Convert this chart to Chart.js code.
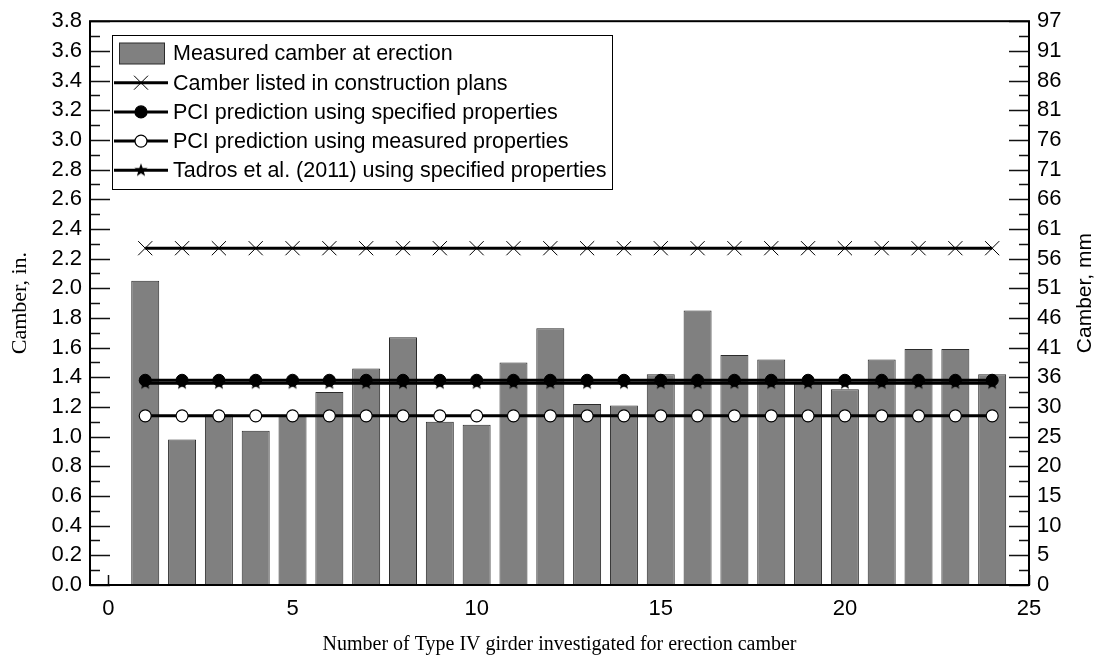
<!DOCTYPE html>
<html>
<head>
<meta charset="utf-8">
<script src="https://cdn.jsdelivr.net/npm/chart.js@4/dist/chart.umd.min.js"></script>
<style>
  html, body { margin: 0; padding: 0; background: #fff; }
  #wrap { width: 1101px; height: 663px; }
</style>
</head>
<body>
<div id="wrap"><canvas id="c" width="1101" height="663"></canvas></div>
<script>
// Girder numbers and erection camber (in.)
const girderNumbers = [1, 2, 3, 4, 5, 6, 7, 8, 9, 10, 11, 12, 13, 14, 15, 16, 17, 18, 19, 20, 21, 22, 23, 24];
const measuredCamber = [2.05, 0.98, 1.15, 1.04, 1.14, 1.30, 1.46, 1.67, 1.10, 1.08, 1.50, 1.73,
                        1.22, 1.21, 1.42, 1.85, 1.55, 1.52, 1.37, 1.32, 1.52, 1.59, 1.59, 1.42];
const planCamber     = [2.27, 2.27, 2.27, 2.27, 2.27, 2.27, 2.27, 2.27, 2.27, 2.27, 2.27, 2.27,
                        2.27, 2.27, 2.27, 2.27, 2.27, 2.27, 2.27, 2.27, 2.27, 2.27, 2.27, 2.27];
const pciSpecified   = [1.38, 1.38, 1.38, 1.38, 1.38, 1.38, 1.38, 1.38, 1.38, 1.38, 1.38, 1.38,
                        1.38, 1.38, 1.38, 1.38, 1.38, 1.38, 1.38, 1.38, 1.38, 1.38, 1.38, 1.38];
const pciMeasured    = [1.14, 1.14, 1.14, 1.14, 1.14, 1.14, 1.14, 1.14, 1.14, 1.14, 1.14, 1.14,
                        1.14, 1.14, 1.14, 1.14, 1.14, 1.14, 1.14, 1.14, 1.14, 1.14, 1.14, 1.14];
const tadrosSpecified = [1.36, 1.36, 1.36, 1.36, 1.36, 1.36, 1.36, 1.36, 1.36, 1.36, 1.36, 1.36,
                         1.36, 1.36, 1.36, 1.36, 1.36, 1.36, 1.36, 1.36, 1.36, 1.36, 1.36, 1.36];

// Tick labels
const xTicks = [0, 5, 10, 15, 20, 25];
const yTicksIn = [0.0, 0.2, 0.4, 0.6, 0.8, 1.0, 1.2, 1.4, 1.6, 1.8, 2.0, 2.2, 2.4, 2.6, 2.8, 3.0, 3.2, 3.4, 3.6, 3.8];
const yTicksMm = [0, 5, 10, 15, 20, 25, 30, 36, 41, 46, 51, 56, 61, 66, 71, 76, 81, 86, 91, 97];

const seriesLabels = [
  'Measured camber at erection',
  'Camber listed in construction plans',
  'PCI prediction using specified properties',
  'PCI prediction using measured properties',
  'Tadros et al. (2011) using specified properties'
];

const SANS = '"Liberation Sans", Arial, sans-serif';
const SERIF = '"Liberation Serif", "Times New Roman", serif';

// Filled five-point star used as a point marker
function makeStar(outer, inner) {
  const size = Math.ceil(outer * 2 + 2);
  const cv = document.createElement('canvas');
  cv.width = size; cv.height = size;
  const g = cv.getContext('2d');
  const cx = size / 2, cy = size / 2;
  g.beginPath();
  for (let i = 0; i < 10; i++) {
    const r = i % 2 === 0 ? outer : inner;
    const a = -Math.PI / 2 + i * Math.PI / 5;
    const px = cx + r * Math.cos(a), py = cy + r * Math.sin(a);
    if (i === 0) g.moveTo(px, py); else g.lineTo(px, py);
  }
  g.closePath();
  g.fillStyle = '#000';
  g.fill();
  return cv;
}
const starImg = makeStar(7, 2.9);

const pts = arr => girderNumbers.map((n, i) => ({ x: n, y: arr[i] }));

// Inward tick marks on all sides of the plot frame
const tickMarks = {
  id: 'tickMarks',
  beforeDatasetsDraw(chart) {
    const { ctx, chartArea: a, scales } = chart;
    const y = scales.y, x = scales.x;
    ctx.save();
    ctx.strokeStyle = '#111';
    ctx.lineWidth = 1.5;
    ctx.beginPath();
    for (let i = 0; i < yTicksIn.length; i++) {
      const py = Math.round(y.getPixelForValue(yTicksIn[i])) + 0.5;
      ctx.moveTo(a.left, py); ctx.lineTo(a.left + 20, py);
      ctx.moveTo(a.right, py); ctx.lineTo(a.right - 20, py);
      if (i < yTicksIn.length - 1) {
        const pm = Math.round(y.getPixelForValue((yTicksIn[i] + yTicksIn[i + 1]) / 2)) + 0.5;
        ctx.moveTo(a.left, pm); ctx.lineTo(a.left + 10, pm);
        ctx.moveTo(a.right, pm); ctx.lineTo(a.right - 10, pm);
      }
    }
    xTicks.forEach(v => {
      const px = Math.round(x.getPixelForValue(v)) + 0.5;
      ctx.moveTo(px, a.bottom); ctx.lineTo(px, a.bottom - 10);
    });
    ctx.stroke();
    ctx.restore();
  },
  afterDatasetsDraw(chart) {
    const { ctx, chartArea: a } = chart;
    ctx.save();
    ctx.strokeStyle = '#000';
    ctx.lineWidth = 2;
    ctx.strokeRect(a.left, a.top, a.right - a.left, a.bottom - a.top);
    ctx.restore();
  }
};

// Right-hand axis title, reading bottom to top
const rightTitle = {
  id: 'rightTitle',
  afterDraw(chart) {
    const { ctx, chartArea: a } = chart;
    ctx.save();
    ctx.translate(1085, (a.top + a.bottom) / 2 - 10);
    ctx.rotate(-Math.PI / 2);
    ctx.font = '21px ' + SANS;
    ctx.fillStyle = '#000';
    ctx.textAlign = 'center';
    ctx.textBaseline = 'middle';
    ctx.fillText('Camber, mm', 0, 0);
    ctx.restore();
  }
};

// Boxed legend in the upper-left corner of the plot
const boxLegend = {
  id: 'boxLegend',
  afterDraw(chart) {
    const { ctx } = chart;
    const bx = 112, by = 35, bw = 500, bh = 154;
    ctx.save();
    ctx.fillStyle = '#fff';
    ctx.fillRect(bx, by, bw, bh);
    ctx.strokeStyle = '#000';
    ctx.lineWidth = 1;
    ctx.strokeRect(bx + 0.5, by + 0.5, bw, bh);
    const x0 = 114, x1 = 168, xm = 141, tx = 173;
    chart.data.datasets.forEach((ds, i) => {
      const cy = 53.5 + i * 29.2;
      if (i === 0) {
        ctx.fillStyle = ds.backgroundColor;
        ctx.fillRect(119, cy - 10.5, 45, 21);
        ctx.strokeStyle = ds.borderColor;
        ctx.lineWidth = 1;
        ctx.strokeRect(119.5, cy - 10.5, 45, 21);
      } else {
        ctx.strokeStyle = '#000';
        ctx.lineWidth = 3;
        ctx.beginPath();
        ctx.moveTo(x0, cy); ctx.lineTo(x1, cy);
        ctx.stroke();
        if (ds.pointStyle === 'crossRot') {
          ctx.lineWidth = 1;
          ctx.beginPath();
          ctx.moveTo(xm - 7, cy - 7); ctx.lineTo(xm + 7, cy + 7);
          ctx.moveTo(xm + 7, cy - 7); ctx.lineTo(xm - 7, cy + 7);
          ctx.stroke();
        } else if (ds.pointStyle === 'circle') {
          ctx.beginPath();
          ctx.arc(xm, cy, 6, 0, Math.PI * 2);
          ctx.fillStyle = ds.pointBackgroundColor;
          ctx.fill();
          ctx.lineWidth = 1.2;
          ctx.strokeStyle = '#000';
          ctx.stroke();
        } else {
          ctx.drawImage(starImg, xm - starImg.width / 2, cy - starImg.height / 2);
        }
      }
      ctx.fillStyle = '#000';
      ctx.font = '21.5px ' + SANS;
      ctx.textAlign = 'left';
      ctx.textBaseline = 'middle';
      ctx.fillText(ds.label, tx, cy + 1);
    });
    ctx.restore();
  }
};

const lineBase = {
  type: 'line',
  borderColor: '#000',
  borderWidth: 3,
  pointBorderColor: '#000',
  fill: false,
  tension: 0
};

new Chart(document.getElementById('c'), {
  type: 'bar',
  data: {
    datasets: [
      {
        label: seriesLabels[0],
        data: pts(measuredCamber),
        backgroundColor: '#808080',
        borderColor: '#2a2a2a',
        borderWidth: 1,
        barPercentage: 0.95,
        categoryPercentage: 0.8,
        order: 5
      },
      Object.assign({}, lineBase, {
        label: seriesLabels[1],
        data: pts(planCamber),
        pointStyle: 'crossRot',
        pointRadius: 10,
        pointBorderWidth: 1,
        pointBackgroundColor: '#000',
        order: 4
      }),
      Object.assign({}, lineBase, {
        label: seriesLabels[2],
        data: pts(pciSpecified),
        pointStyle: 'circle',
        pointRadius: 6,
        pointBorderWidth: 1,
        pointBackgroundColor: '#000',
        order: 1
      }),
      Object.assign({}, lineBase, {
        label: seriesLabels[3],
        data: pts(pciMeasured),
        pointStyle: 'circle',
        pointRadius: 6,
        pointBorderWidth: 1.2,
        pointBackgroundColor: '#fff',
        order: 2
      }),
      Object.assign({}, lineBase, {
        label: seriesLabels[4],
        data: pts(tadrosSpecified),
        pointStyle: starImg,
        order: 3
      })
    ]
  },
  options: {
    responsive: false,
    devicePixelRatio: 1,
    animation: false,
    events: [],
    layout: { padding: { top: 20, left: 0, right: 0, bottom: 0 } },
    plugins: { legend: { display: false }, tooltip: { enabled: false } },
    scales: {
      x: {
        type: 'linear',
        offset: false,
        min: -0.5,
        max: 25,
        afterBuildTicks: s => { s.ticks = xTicks.map(v => ({ value: v })); },
        afterFit: s => { s.height = 78; },
        grid: { display: false, drawTicks: false, offset: false },
        border: { display: false },
        ticks: { color: '#000', font: { family: SANS, size: 22 }, padding: 11, maxRotation: 0 },
        title: {
          display: true,
          text: 'Number of Type IV girder investigated for erection camber',
          color: '#000',
          font: { family: SERIF, size: 20 },
          padding: { top: 0, bottom: 6 }
        }
      },
      y: {
        type: 'linear',
        position: 'left',
        min: 0,
        max: 3.8,
        afterBuildTicks: s => { s.ticks = yTicksIn.map(v => ({ value: v })); },
        afterFit: s => { s.width = 90; },
        grid: { display: false, drawTicks: false },
        border: { display: false },
        ticks: { color: '#000', font: { family: SANS, size: 22 }, padding: 8,
                 callback: v => v.toFixed(1) },
        title: {
          display: true,
          text: 'Camber, in.',
          color: '#000',
          font: { family: SERIF, size: 22 },
          padding: { top: 7, bottom: 0 }
        }
      },
      y2: {
        type: 'linear',
        position: 'right',
        min: 0,
        max: 3.8,
        afterBuildTicks: s => { s.ticks = yTicksIn.map(v => ({ value: v })); },
        afterFit: s => { s.width = 72; },
        grid: { display: false, drawTicks: false },
        border: { display: false },
        ticks: { color: '#000', font: { family: SANS, size: 22 }, padding: 8,
                 callback: (v, i) => String(yTicksMm[i]) }
      }
    }
  },
  plugins: [tickMarks, rightTitle, boxLegend]
});
</script>
</body>
</html>
